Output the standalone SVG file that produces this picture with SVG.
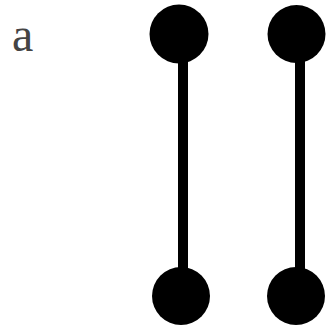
<svg xmlns="http://www.w3.org/2000/svg" width="330" height="328" viewBox="0 0 330 328">
<style>
.dot{fill:#000}
.edge{stroke:#000;stroke-width:10;fill:none}
.lbl{font-family:"Liberation Serif",serif;font-size:48px;fill:#444}
</style>
<rect width="330" height="328" fill="#fff"/>
<text class="lbl" x="12" y="51">a</text>
<g id="connectors">
<line class="edge" x1="183" y1="34" x2="183" y2="296"/>
<line class="edge" x1="300" y1="34" x2="300" y2="296"/>
</g>
<g id="n1"><circle class="dot" cx="179" cy="34" r="29.5"/></g>
<g id="n2"><circle class="dot" cx="296.5" cy="34" r="29"/></g>
<g id="n3"><circle class="dot" cx="181" cy="296" r="29"/></g>
<g id="n4"><circle class="dot" cx="296" cy="296" r="29"/></g>
</svg>
